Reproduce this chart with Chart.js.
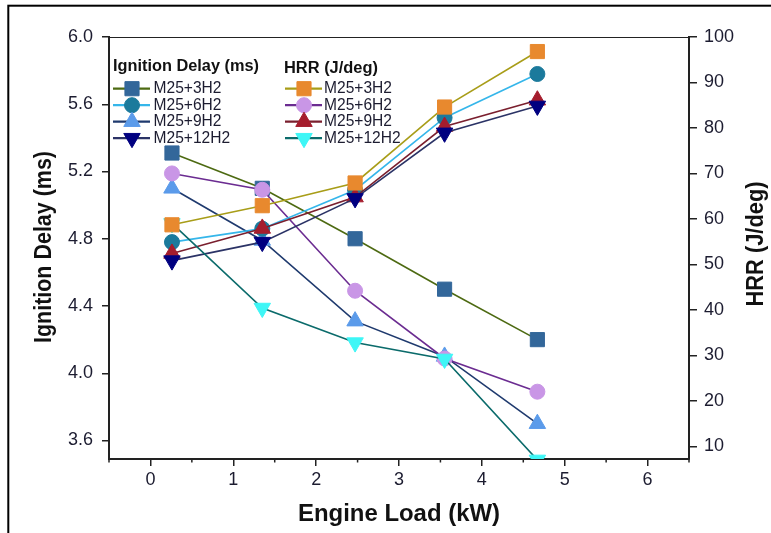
<!DOCTYPE html>
<html>
<head>
<meta charset="utf-8">
<script src="https://cdn.jsdelivr.net/npm/chart.js@4.4.1/dist/chart.umd.min.js"></script>
<style>
  html, body { margin: 0; padding: 0; background: #fff; }
  canvas { display: block; }
</style>
</head>
<body>
<canvas id="c" width="771" height="533"></canvas>
<script>
// ---- data ----
const engineLoad = [0.26, 1.35, 2.47, 3.55, 4.67];

const idM25_3H2  = [5.31, 5.10, 4.80, 4.50, 4.20];
const idM25_6H2  = [4.78, 4.86, 5.09, 5.52, 5.78];
const idM25_9H2  = [5.10, 4.79, 4.31, 4.10, 3.70];
const idM25_12H2 = [4.67, 4.78, 5.04, 5.43, 5.59];

const hrrM25_3H2  = [58.7, 62.9, 67.9, 84.6, 96.8];
const hrrM25_6H2  = [70.0, 66.4, 44.2, 29.3, 22.0];
const hrrM25_9H2  = [52.4, 57.9, 64.8, 80.3, 86.1];
const hrrM25_12H2 = [59.0, 40.4, 32.8, 29.2, 7.0];

const xTickValues = [0, 1, 2, 3, 4, 5, 6];
const xMinorTickValues = [-0.5, 0.5, 1.5, 2.5, 3.5, 4.5, 5.5, 6.5];
const leftTickValues = [3.6, 4.0, 4.4, 4.8, 5.2, 5.6, 6.0];
const rightTickValues = [10, 20, 30, 40, 50, 60, 70, 80, 90, 100];

const seriesLabels = ['M25+3H2', 'M25+6H2', 'M25+9H2', 'M25+12H2'];
const idHeader = 'Ignition Delay (ms)';
const hrrHeader = 'HRR (J/deg)';

const FONT = "'Liberation Sans', Arial, Helvetica, sans-serif";
const AXIS = '#222222';
const TEXT = '#1c1c30';

function pts(ys) { return ys.map((y, i) => ({ x: engineLoad[i], y: y })); }

function ds(label, data, axis, lineColor, pointColor, style, rot, radius, order, group) {
  return {
    label: label, data: pts(data), yAxisID: axis,
    borderColor: lineColor, backgroundColor: pointColor,
    pointBackgroundColor: pointColor, pointBorderColor: pointColor,
    pointBorderWidth: 1, borderWidth: 1.6,
    pointStyle: style, pointRotation: rot, pointRadius: radius, pointHoverRadius: radius,
    tension: 0, fill: false, clip: 0, order: order, group: group
  };
}

const datasets = [
  ds(seriesLabels[0], idM25_3H2,  'y', '#4d6a12', '#33679a', 'rect', 0, 10, 7, 0),
  ds(seriesLabels[1], idM25_6H2,  'y', '#35b6ea', '#1b7a9c', 'circle', 0, 7.5, 5, 0),
  ds(seriesLabels[2], idM25_9H2,  'y', '#1f3a6e', '#5b9bea', 'triangle', 0, 9.5, 8, 0),
  ds(seriesLabels[3], idM25_12H2, 'y', '#2b3366', '#000080', 'triangle', 180, 9.5, 3, 0),
  ds(seriesLabels[0], hrrM25_3H2,  'y1', '#a89d18', '#e8892e', 'rect', 0, 10, 1, 1),
  ds(seriesLabels[1], hrrM25_6H2,  'y1', '#6b2c91', '#c996e6', 'circle', 0, 7.5, 6, 1),
  ds(seriesLabels[2], hrrM25_9H2,  'y1', '#7a1f2e', '#a51d2d', 'triangle', 0, 9.5, 4, 1),
  ds(seriesLabels[3], hrrM25_12H2, 'y1', '#0b6b6b', '#3ef6f6', 'triangle', 180, 9.5, 2, 1)
];

function fitText(ctx, text, x, y, targetW, font, color, rot) {
  ctx.save();
  ctx.font = font;
  ctx.fillStyle = color;
  ctx.textBaseline = 'middle';
  ctx.textAlign = 'left';
  const w = ctx.measureText(text).width;
  const sx = targetW / w;
  ctx.translate(x, y);
  if (rot) ctx.rotate(rot);
  ctx.scale(sx, 1);
  ctx.fillText(text, -w / 2, 0);
  ctx.restore();
}

const decorPlugin = {
  id: 'decor',
  beforeDraw(chart) {
    const ctx = chart.ctx;
    ctx.save();
    ctx.fillStyle = '#ffffff';
    ctx.fillRect(0, 0, chart.width, chart.height);
    ctx.restore();
  },
  afterDraw(chart) {
    const ctx = chart.ctx;
    const a = chart.chartArea;
    const xs = chart.scales.x;
    ctx.save();
    // outer frame
    ctx.strokeStyle = '#000';
    ctx.lineWidth = 2;
    ctx.strokeRect(8.3, 5.7, 900, 900);
    // top border of plot
    ctx.strokeStyle = AXIS;
    ctx.lineWidth = 1.2;
    ctx.beginPath();
    ctx.moveTo(a.left, a.top + 0.5);
    ctx.lineTo(a.right, a.top + 0.5);
    ctx.stroke();
    // minor x ticks
    ctx.lineWidth = 1.5;
    xMinorTickValues.forEach(v => {
      const px = xs.getPixelForValue(v);
      ctx.beginPath();
      ctx.moveTo(px, a.bottom);
      ctx.lineTo(px, a.bottom + 3.5);
      ctx.stroke();
    });
    ctx.restore();

    // axis titles
    fitText(ctx, 'Ignition Delay (ms)', 44, 247, 192, "bold 24px " + FONT, '#111', -Math.PI / 2);
    fitText(ctx, 'HRR (J/deg)', 756, 244, 125, "bold 24px " + FONT, '#111', -Math.PI / 2);
    fitText(ctx, 'Engine Load (kW)', 399, 514, 202, "bold 24px " + FONT, '#111', 0);

    // legend
    fitText(ctx, idHeader, 113 + 73, 67, 146, "bold 16px " + FONT, '#111', 0);
    fitText(ctx, hrrHeader, 284 + 47, 69, 94, "bold 16px " + FONT, '#111', 0);
    const rows = [88.7, 105.2, 121.7, 138.2];
    const cols = [
      { l0: 113, l1: 150, m: 132, t: 153.5 },
      { l0: 285, l1: 322, m: 304, t: 324 }
    ];
    ctx.save();
    ctx.font = "16px " + FONT;
    const base = ctx.measureText(seriesLabels[0]).width;
    const sx = 68 / base;
    ctx.restore();
    datasets.forEach((d, i) => {
      const c = cols[d.group];
      const y = rows[i % 4];
      ctx.save();
      ctx.strokeStyle = d.borderColor;
      ctx.lineWidth = 2.2;
      ctx.beginPath();
      ctx.moveTo(c.l0, y);
      ctx.lineTo(c.l1, y);
      ctx.stroke();
      ctx.fillStyle = d.pointBackgroundColor;
      ctx.strokeStyle = d.pointBorderColor;
      ctx.lineWidth = 1;
      Chart.helpers.drawPoint(ctx, {
        pointStyle: d.pointStyle, rotation: d.pointRotation,
        radius: d.pointRadius, borderWidth: 1
      }, c.m, y);
      ctx.font = "16px " + FONT;
      ctx.fillStyle = '#1c1c30';
      ctx.textBaseline = 'middle';
      ctx.translate(c.t, y);
      ctx.scale(sx, 1);
      ctx.fillText(d.label, 0, 0);
      ctx.restore();
    });
  }
};

const tickFont = { family: FONT, size: 18 };

new Chart(document.getElementById('c'), {
  type: 'line',
  data: { datasets: datasets },
  options: {
    responsive: false,
    animation: false,
    devicePixelRatio: 1,
    layout: { padding: { left: 0, right: 0, top: 37, bottom: 0 } },
    plugins: { legend: { display: false }, tooltip: { enabled: false } },
    events: [],
    scales: {
      x: {
        type: 'linear', min: -0.5, max: 6.5,
        afterBuildTicks: s => { s.ticks = xTickValues.map(v => ({ value: v })); },
        afterFit: s => { s.height = 74; },
        ticks: { font: tickFont, color: TEXT, padding: 3, maxRotation: 0, autoSkip: false,
                 callback: v => String(v) },
        grid: { display: true, drawOnChartArea: false, drawTicks: true, tickLength: 7,
                color: AXIS, lineWidth: 1.5 },
        border: { display: true, color: AXIS, width: 2 }
      },
      y: {
        type: 'linear', position: 'left', min: 3.49, max: 6.0,
        afterBuildTicks: s => { s.ticks = leftTickValues.map(v => ({ value: v })); },
        afterFit: s => { s.width = 109; },
        ticks: { font: tickFont, color: TEXT, padding: 9, autoSkip: false,
                 callback: v => Number(v).toFixed(1) },
        grid: { display: true, drawOnChartArea: false, drawTicks: true, tickLength: 7,
                color: AXIS, lineWidth: 1.5 },
        border: { display: true, color: AXIS, width: 2 }
      },
      y1: {
        type: 'linear', position: 'right', min: 7.2, max: 100,
        afterBuildTicks: s => { s.ticks = rightTickValues.map(v => ({ value: v })); },
        afterFit: s => { s.width = 82; },
        ticks: { font: tickFont, color: TEXT, padding: 7, autoSkip: false,
                 callback: v => String(v) },
        grid: { display: true, drawOnChartArea: false, drawTicks: true, tickLength: 8,
                color: AXIS, lineWidth: 1.5 },
        border: { display: true, color: AXIS, width: 2 }
      }
    }
  },
  plugins: [decorPlugin]
});
</script>
</body>
</html>
